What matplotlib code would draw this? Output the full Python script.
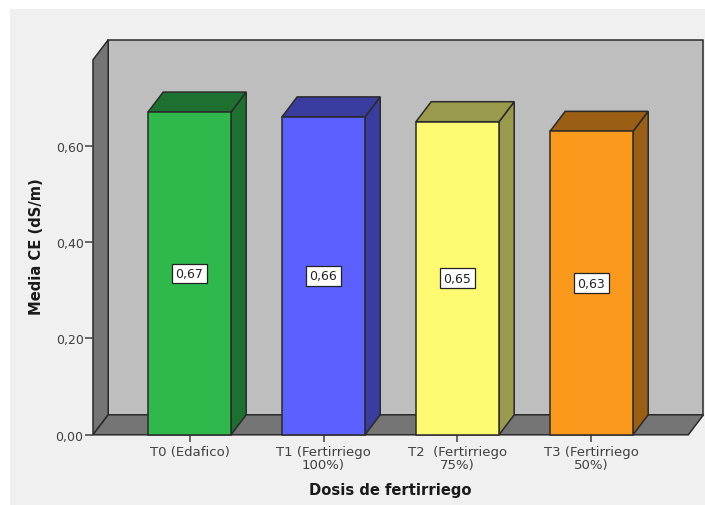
import matplotlib
matplotlib.use("Agg")
import matplotlib.pyplot as plt
from matplotlib.patches import Polygon, Rectangle

categories = ["T0 (Edafico)", "T1 (Fertirriego\n100%)", "T2  (Fertirriego\n75%)", "T3 (Fertirriego\n50%)"]
media_ce = [0.67, 0.66, 0.65, 0.63]
yticks = [0.0, 0.2, 0.4, 0.6]
front_colors = ["#2fb84c", "#5b60ff", "#fdf970", "#fb991c"]
shade_colors = ["#1d7030", "#3a3d9f", "#9a9a4c", "#9a5f14"]

W, H = 705, 506
fig = plt.figure(figsize=(W / 100, H / 100), dpi=100, facecolor="white")
fig.patches.append(Rectangle((10 / W, 0), (W - 10) / W, (H - 10) / H, transform=fig.transFigure,
                             facecolor="#f0f0f0", edgecolor="none", zorder=-10))

# axes box = front face of the chart frame
left, right, top, bottom = 93, 688.3, 60.8, 435.8
ax = fig.add_axes([left / W, 1 - bottom / H, (right - left) / W, (bottom - top) / H])
ax.patch.set_alpha(0)

px_per_cat = 134.0
px_per_val = 481.67
ax.set_xlim((left - 189.5) / px_per_cat, (right - 189.5) / px_per_cat)
ax.set_ylim(0, (bottom - top) / px_per_val)

# depth of the 3D effect in data units
dx = 15.2 / px_per_cat
dy = 20 / px_per_val
x0, x1 = ax.get_xlim()
y1 = ax.get_ylim()[1]
edge = "#2a2a2a"

def poly(pts, color, z, ec=edge, lw=1.1):
    ax.add_patch(Polygon(pts, closed=True, facecolor=color, edgecolor=ec, linewidth=lw,
                         clip_on=False, zorder=z, joinstyle="miter"))

# back wall, side wall and floor
poly([(x0 + dx, dy), (x1 + dx, dy), (x1 + dx, y1 + dy), (x0 + dx, y1 + dy)], "#bebebe", 1)
poly([(x0, 0), (x0 + dx, dy), (x0 + dx, y1 + dy), (x0, y1)], "#757575", 1.1)
poly([(x0, 0), (x1, 0), (x1 + dx, dy), (x0 + dx, dy)], "#757575", 1.2)

# bars
bw = 83 / px_per_cat
for i, v in enumerate(media_ce):
    l, r = i - bw / 2, i + bw / 2
    z = 2 + i
    poly([(r, 0), (r + dx, dy), (r + dx, v + dy), (r, v)], shade_colors[i], z)
    poly([(l, v), (r, v), (r + dx, v + dy), (l + dx, v + dy)], shade_colors[i], z)
    poly([(l, 0), (r, 0), (r, v), (l, v)], front_colors[i], z + 0.1)
    ax.text(i, v / 2, f"{v:.2f}".replace(".", ","), ha="center", va="center", fontsize=9,
            color="#222222", zorder=10,
            bbox=dict(boxstyle="square,pad=0.27", facecolor="white", edgecolor="#222222", linewidth=0.9))

for s in ax.spines.values():
    s.set_visible(False)

ax.set_yticks(yticks)
ax.set_yticklabels([f"{t:.2f}".replace(".", ",") for t in yticks])
ax.set_xticks(range(len(categories)))
ax.set_xticklabels(categories, linespacing=1.0)
ax.tick_params(axis="y", length=5.8, width=1.1, color="#404040", labelcolor="#404040", labelsize=9, pad=1)
ax.tick_params(axis="x", length=5.2, width=1.1, color="#404040", labelcolor="#404040", labelsize=9.5, pad=2)

fig.text(390 / W, 1 - 491 / H, "Dosis de fertirriego", ha="center", va="center",
         fontsize=10.6, fontweight="bold", color="#1a1a1a")
fig.text(37 / W, 1 - 247 / H, "Media CE (dS/m)", ha="center", va="center", rotation=90,
         fontsize=10.6, fontweight="bold", color="#1a1a1a")

fig.savefig("out.png", dpi=100)
